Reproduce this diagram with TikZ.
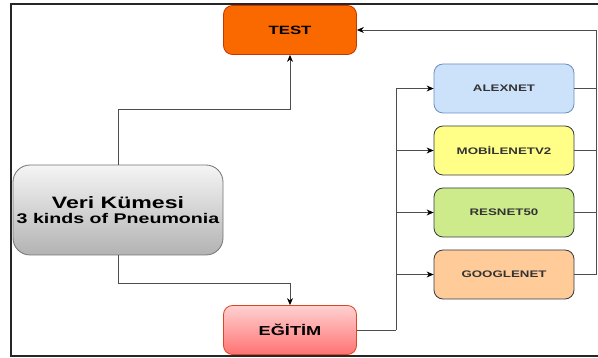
\documentclass[tikz,border=0pt]{standalone}
\usepackage{fontspec}
\setmainfont{Liberation Sans}[FakeStretch=1.4]
\usepackage{tikz}
\usetikzlibrary{positioning, arrows.meta}

\definecolor{testfill}{HTML}{FA6800}
\definecolor{teststroke}{HTML}{C73500}
\definecolor{alexfill}{HTML}{CCE2FA}
\definecolor{alexstroke}{HTML}{6C8EBF}
\definecolor{mobfill}{HTML}{FFFF88}
\definecolor{resfill}{HTML}{CDEB8B}
\definecolor{googfill}{HTML}{FFCC99}
\definecolor{darkstroke}{HTML}{36393D}
\definecolor{wire}{HTML}{4D4D4D}

\tikzset{
  box/.style={draw, rounded corners=9pt, minimum width=133pt, minimum height=49pt,
    font=\bfseries, inner sep=0pt, line width=0.8pt},
  model/.style={box, minimum width=140pt, draw=darkstroke, text=black!80,
    font=\bfseries\fontsize{9.5}{11}\selectfont},
  wire/.style={draw=wire, line width=0.9pt},
  >={Stealth[length=7pt,width=6pt,black]}
}

\begin{document}
\begin{tikzpicture}[x=1pt,y=-1pt,node distance=62pt,on grid]
        \useasboundingbox (0,0) rectangle (598,358);
        % frame
        \draw[line width=2.2pt, black!85] (598,4) -- (11,4) -- (11,356) -- (598,356);

        \node[box, fill=testfill, draw=teststroke, font=\bfseries\fontsize{12}{14}\selectfont]
              (test) at (290,30) {TEST};
        \node[box, minimum width=210pt, minimum height=90pt, rounded corners=17pt,
              draw=black!55, top color=black!4, bottom color=black!30, align=center]
              (veri) at (118,210) {\fontsize{16.5}{19}\selectfont Veri Kümesi\\[3pt]\fontsize{14}{16}\selectfont 3 kinds of Pneumonia};
        \node[box, draw=red!45!brown, top color=red!18, bottom color=red!55!white,
              font=\bfseries\fontsize{13}{15}\selectfont] (egitim) at (290,330) {EĞİTİM};

        \node[model, fill=alexfill, draw=alexstroke] (alexnet) at (504,88.5) {ALEXNET};
        \node[model, fill=mobfill] (mobilenet) [below=of alexnet] {MOBİLENETV2};
        \node[model, fill=resfill] (resnet) [below=of mobilenet] {RESNET50};
        \node[model, fill=googfill] (googlenet) [below=of resnet] {GOOGLENET};

        \coordinate (split) at (396,330);
        \coordinate (ret) at (596,30);

        % dataset to test and training
        \draw[wire,->] (veri.north) -- ++(0,-55) -| (test.south);
        \draw[wire,->] (veri.south) -- ++(0,28) -| (egitim.north);

        % training to the models
        \draw[wire] (egitim.east) -- (split);
        \foreach \m in {alexnet,mobilenet,resnet,googlenet}
          \draw[wire,->] (split) |- (\m.west);

        % models back to test
        \foreach \m in {alexnet,mobilenet,resnet}
          \draw[wire] (\m.east) -| (ret);
        \draw[wire,->] (googlenet.east) -| (ret) -- (test.east);
\end{tikzpicture}
\end{document}
